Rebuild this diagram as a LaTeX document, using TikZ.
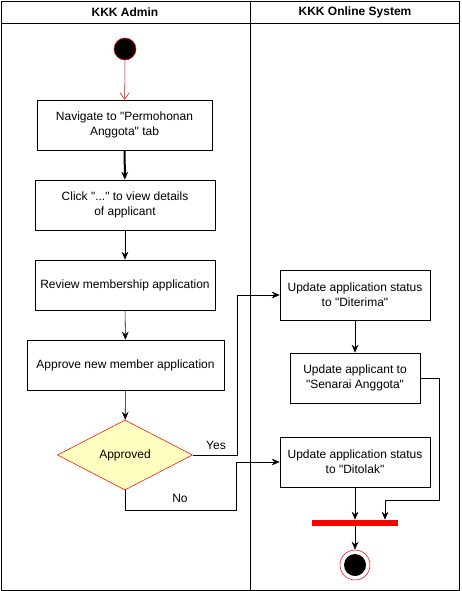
\documentclass[tikz,border=0pt]{standalone}
\usepackage{fontspec}
\setmainfont{Liberation Sans}[Ligatures=TeXOff]
\usetikzlibrary{arrows.meta,shapes.geometric}
\definecolor{decfill}{HTML}{FFFFC0}

\begin{document}
\begin{tikzpicture}[x=0.75pt, y=-0.75pt,
  every node/.style={font=\fontsize{9}{11}\selectfont},
  action/.style={draw, align=center, minimum height=37.5pt, inner sep=2pt},
  flow/.style={-{Stealth[length=6pt,width=5pt]}},
  lane/.style={font=\fontsize{9}{11}\selectfont\bfseries}]
%\draw[step=10,gray,very thin] (0,0) grid (461,591);
\useasboundingbox (0,0) rectangle (461,591);

% swimlanes
\draw (1,1) rectangle (459,590);
\draw (1,23) -- (459,23);
\draw (250,1) -- (250,590);
\node[lane] (admin) at (125,12) {KKK Admin};
\node[lane] (system) at (355,12) {KKK Online System};

% admin side
\node[circle, draw=red, fill=black, minimum size=16.5pt, inner sep=0] (start) at (125,49) {};
\node[action, minimum width=131.25pt] (nav) at (124.5,125) {Navigate to "Permohonan\\Anggota" tab};
\node[action, minimum width=135pt] (click) at (125,205) {Click "..." to view details\\of applicant};
\node[action, minimum width=135pt] (review) at (125,285) {Review membership application};
\node[action, minimum width=147.75pt] (approve) at (125.5,365) {Approve new member application};
\node[diamond, draw=red, fill=decfill, minimum width=101.25pt, minimum height=52.5pt, inner sep=0, aspect=1.93] (dec) at (125,455) {Approved};

% system side
\node[action, minimum width=112.5pt] (diterima) at (355,295) {Update application status\\to "Diterima"};
\node[action, minimum width=97.5pt] (senarai) at (355,378) {Update applicant to\\"Senarai Anggota"};
\node[action, minimum width=112.5pt] (ditolak) at (355,462) {Update application status\\to "Ditolak"};
\node[fill=red, minimum width=64.5pt, minimum height=4.5pt, inner sep=0] (bar) at (355,523) {};
\node[circle, draw=red, minimum size=22.5pt, inner sep=0] (end) at (355,565) {};
\node[circle, fill=black, minimum size=16.5pt, inner sep=0] (endin) at (355,565) {};

% connectors
\draw[red, -{Straight Barb[length=5pt,width=7pt]}] (start) -- (nav);
\draw[flow, line width=1.5pt] (nav) -- (click);
\draw[flow] (click) -- (review);
\draw[flow] (review) -- (approve);
\draw[flow] (approve) -- (dec);
\draw[flow] (dec.east) -- ++(44,0) |- (diterima.west);
\draw[flow] (dec.south) -- ++(0,20) -- ++(111,0) |- (ditolak.west);
\draw[flow] (diterima) -- (senarai);
\draw[flow] (senarai.east) -- ++(19,0) -- ++(0,122) -| ([xshift=22.5pt]bar.north);
\draw[flow] (ditolak) -- (bar);
\draw[flow] (bar) -- (end);

\node (yes) at (216,445) {Yes};
\node (no) at (180,498) {No};
\end{tikzpicture}
\end{document}
